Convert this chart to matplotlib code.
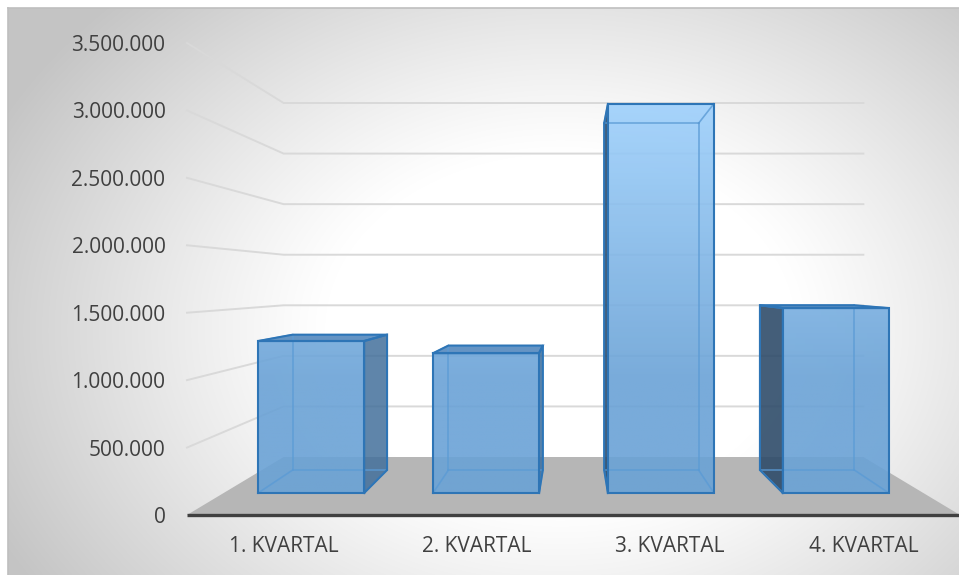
import numpy as np
import matplotlib
matplotlib.use("Agg")
import matplotlib.pyplot as plt
from matplotlib.patches import Polygon
from matplotlib.colors import to_rgb

# data
categories = ["1. KVARTAL", "2. KVARTAL", "3. KVARTAL", "4. KVARTAL"]
values = [1245000, 1145000, 3190000, 1515000]
y_ticks = [0, 500000, 1000000, 1500000, 2000000, 2500000, 3000000, 3500000]

# perspective settings (front plane = axes data coords)
VX, VY = 2.0, 1.72e6      # vanishing point
S_BACK = 0.75             # scale of back wall
S_BAR_FRONT, S_BAR_BACK = 0.905, 0.806
BAR_W = 0.606

plt.rcParams['font.family'] = ['Open Sans', 'DejaVu Sans']

W, H = 959, 575
fig = plt.figure(figsize=(W / 100, H / 100), dpi=100)

# background with radial gradient
bg = fig.add_axes([8 / W, 0, (W - 8) / W, (H - 8) / H])
yy, xx = np.mgrid[8:H, 8:W]
r = np.sqrt(((xx - 560) / 560.0) ** 2 + ((yy - 330) / 420.0) ** 2)
t = np.clip((r - 0.42) / 0.7, 0, 1) ** 1.1
g = 1.0 - t * (1.0 - 0.77)
bg.imshow(np.dstack([g, g, g]), aspect='auto', extent=[0, 1, 0, 1], interpolation='bilinear')
bg.set_xlim(0, 1)
bg.set_ylim(0, 1)
bg.set_xticks([])
bg.set_yticks([])
for side in ['right', 'bottom']:
    bg.spines[side].set_visible(False)
for side in ['top', 'left']:
    bg.spines[side].set_color('#bfbfbf')
    bg.spines[side].set_linewidth(1.2)

ax = fig.add_axes([187 / W, 60 / H, 773 / W, 472 / H])
ax.set_facecolor('none')
ax.set_xlim(0, 4)
ax.set_ylim(0, 3.5e6)
for sp in ax.spines.values():
    sp.set_visible(False)


def proj(x, y, s):
    return VX + s * (x - VX), VY + s * (y - VY)


# gridlines on side wall and back wall
for v in y_ticks[1:]:
    x0, y0 = proj(0, v, 1.0)
    x1, y1 = proj(0, v, S_BACK)
    x2, y2 = proj(4, v, S_BACK)
    ax.plot([x0, x1, x2], [y0, y1, y2], color='#d9d9d9', lw=1.4, clip_on=False, zorder=1)

# floor
floor = [proj(0, 0, 1.0), proj(0, 0, S_BACK), proj(4, 0, S_BACK), proj(4, 0, 1.0)]
ax.add_patch(Polygon(floor, closed=True, facecolor='#b6b6b6', edgecolor='none', clip_on=False, zorder=2))
ax.plot([0, 4], [0, 0], color='#404040', lw=2.4, clip_on=False, zorder=3, solid_capstyle='butt')

c_lo = np.array(to_rgb('#6aa2d6'))
c_hi = np.array(to_rgb('#a2d4ff'))

for i, h in enumerate(values):
    xl, xr = i + 0.5 - BAR_W / 2, i + 0.5 + BAR_W / 2
    sf, sb = S_BAR_FRONT, S_BAR_BACK
    z = 5 + i
    front = [proj(xl, 0, sf), proj(xr, 0, sf), proj(xr, h, sf), proj(xl, h, sf)]
    back = [proj(xl, 0, sb), proj(xr, 0, sb), proj(xr, h, sb), proj(xl, h, sb)]
    right = [proj(xr, 0, sf), proj(xr, 0, sb), proj(xr, h, sb), proj(xr, h, sf)]
    left = [proj(xl, 0, sf), proj(xl, 0, sb), proj(xl, h, sb), proj(xl, h, sf)]
    top = [proj(xl, h, sf), proj(xr, h, sf), proj(xr, h, sb), proj(xl, h, sb)]

    visible = []
    if xr < VX:
        visible.append((right, '#43709b', 0.85))
    else:
        visible.append((left, '#2f4c6a', 0.9))
    if h < VY:
        visible.append((top, '#4a82ba', 0.85))

    for poly, col, a in visible:
        ax.add_patch(Polygon(poly, closed=True, facecolor=col, edgecolor='none', alpha=a,
                             clip_on=False, zorder=z))

    # front face with vertical gradient
    fpatch = Polygon(front, closed=True, facecolor='none', edgecolor='none', clip_on=False, zorder=z)
    ax.add_patch(fpatch)
    ys = np.linspace(h * sf + VY * (1 - sf), VY * (1 - sf), 200)
    frac = np.clip((ys - 1.0e6) / 2.2e6, 0, 1)[:, None]
    grad = (c_lo + frac * (c_hi - c_lo))[:, None, :]
    im = ax.imshow(grad, aspect='auto', alpha=0.9, zorder=z,
                   extent=[front[0][0], front[1][0], front[0][1], front[2][1]])
    im.set_clip_path(fpatch)

    # hidden edges (seen through the bar)
    edges = [(back[0], back[1]), (back[1], back[2]), (back[2], back[3]), (back[3], back[0]),
             (front[0], back[0]), (front[1], back[1]), (front[2], back[2]), (front[3], back[3])]
    for p, q in edges:
        ax.plot([p[0], q[0]], [p[1], q[1]], color='#5b9bd5', lw=1.2, alpha=0.8,
                clip_on=False, zorder=z)

    # visible edges
    for poly in [front] + [v[0] for v in visible]:
        xs = [p[0] for p in poly] + [poly[0][0]]
        ys2 = [p[1] for p in poly] + [poly[0][1]]
        ax.plot(xs, ys2, color='#2e75b6', lw=1.5, clip_on=False, zorder=z,
                solid_joinstyle='miter')

ax.set_xlim(0, 4)
ax.set_ylim(0, 3.5e6)

ax.set_yticks(y_ticks)
ax.set_yticklabels([f"{v:,.0f}".replace(",", ".") for v in y_ticks])
ax.set_xticks(np.arange(len(categories)) + 0.5)
ax.set_xticklabels(categories)
ax.tick_params(axis='y', length=0, pad=15.5, labelsize=15, labelcolor='#404040')
ax.tick_params(axis='x', length=0, pad=15, labelsize=15, labelcolor='#404040')

fig.savefig('out.png', dpi=100, facecolor='white')
